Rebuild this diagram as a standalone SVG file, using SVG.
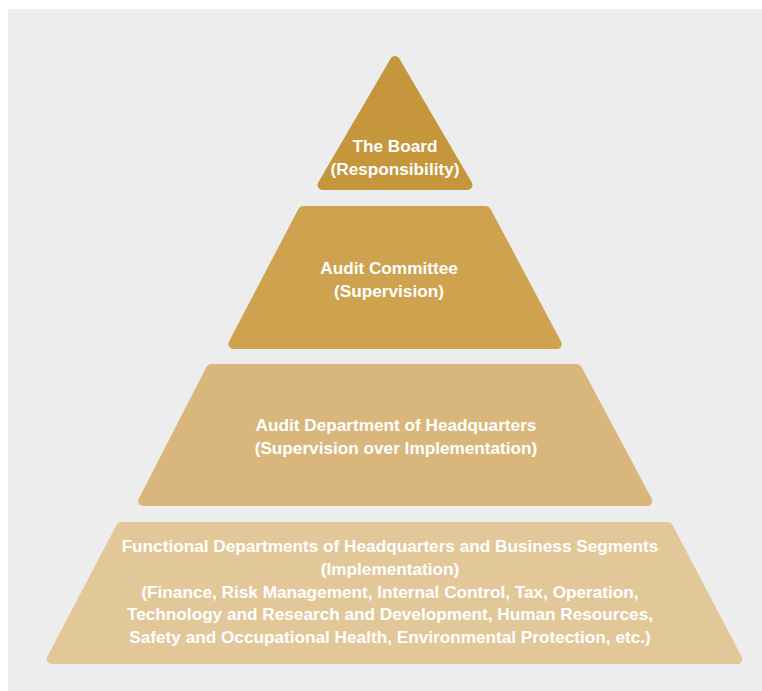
<svg xmlns="http://www.w3.org/2000/svg" width="762" height="691" viewBox="0 0 762 691">
<style>
.tier{stroke-width:10;stroke-linejoin:round}
.t1{fill:#c5963b;stroke:#c5963b}
.t2{fill:#cea24e;stroke:#cea24e}
.t3{fill:#d9b77c;stroke:#d9b77c}
.t4{fill:#e2c899;stroke:#e2c899}
text{font-family:"Liberation Sans",Arial,sans-serif;font-weight:bold;font-size:17.2px;fill:#ffffff;text-anchor:middle}
</style>
<rect x="8" y="9" width="754" height="682" fill="#ededed"/>
<g id="board">
<polygon class="tier t1" points="395,61 322.5,185 467.5,185"/>
<text x="395" y="152">The Board</text>
<text x="395" y="175">(Responsibility)</text>
</g>
<g id="audit-committee">
<polygon class="tier t2" points="303,211 486,211 556.7,344 233.3,344"/>
<text x="389" y="274">Audit Committee</text>
<text x="389" y="297">(Supervision)</text>
</g>
<g id="audit-department">
<polygon class="tier t3" points="211,369 577,369 647.3,501 143.2,501"/>
<text x="396" y="431">Audit Department of Headquarters</text>
<text x="396" y="454">(Supervision over Implementation)</text>
</g>
<g id="functional-departments">
<polygon class="tier t4" points="121,527 668,527 737.3,659 51.7,659"/>
<text x="390" y="552">Functional Departments of Headquarters and Business Segments</text>
<text x="390" y="575">(Implementation)</text>
<text x="390" y="598">(Finance, Risk Management, Internal Control, Tax, Operation,</text>
<text x="390" y="620">Technology and Research and Development, Human Resources,</text>
<text x="390" y="643">Safety and Occupational Health, Environmental Protection, etc.)</text>
</g>
<g id="connectors"/>
</svg>
